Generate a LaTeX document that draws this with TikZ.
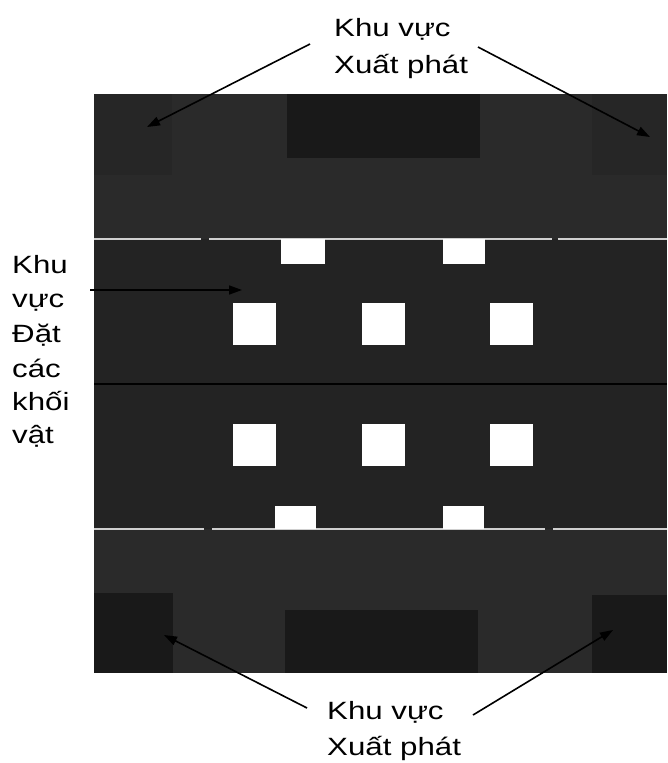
\documentclass[tikz,border=0pt]{standalone}
\usepackage{fontspec}
\setmainfont{Liberation Sans}
\newfontfamily\lblfont[FakeStretch=1.25]{Liberation Sans}
\usetikzlibrary{arrows.meta}

\definecolor{fieldgray}{HTML}{2A2A2A}
\definecolor{midgray}{HTML}{232323}
\definecolor{zonedark}{HTML}{191919}
\definecolor{cornerdark}{HTML}{262626}
\definecolor{laneline}{HTML}{CFCFCF}

\begin{document}
\begin{tikzpicture}[x=1pt,y=-1pt,
  lbl/.style={anchor=base west,inner sep=0pt,text=black,
              font=\lblfont\fontsize{25}{30}\selectfont},
  pointer/.style={draw=black,line width=1.6pt,
                  -{Triangle[length=13pt,width=9pt]}},
  lane/.style={draw=laneline,line width=2pt},
  block/.style={fill=white}]
\useasboundingbox (0,0) rectangle (667,763);

% playing field
\fill[fieldgray] (94,94) rectangle (667,673);
\fill[midgray] (94,239) rectangle (667,529);

% start zones
\fill[cornerdark] (94,94) rectangle (172,175);
\fill[cornerdark] (592,94) rectangle (667,175);
\fill[zonedark] (287,94) rectangle (480,158);
\fill[zonedark] (94,593) rectangle (173,673);
\fill[zonedark] (285,610) rectangle (478,673);
\fill[zonedark] (592,595) rectangle (667,673);

% lane lines
\draw[lane] (94,239) -- (201,239) (209,239) -- (552,239) (558,239) -- (667,239);
\draw[lane] (94,529) -- (204,529) (212,529) -- (545,529) (553,529) -- (667,529);
\draw[black,line width=2pt] (94,384) -- (667,384);

% blocks on the lane lines
\fill[block] (281,239) rectangle (325,264);
\fill[block] (443,239) rectangle (485,264);
\fill[block] (275,506) rectangle (316,529);
\fill[block] (443,506) rectangle (484,529);

% placement squares
\foreach \y in {303,424} {
  \foreach \x in {233,362,490} {
    \fill[block] (\x,\y) rectangle ++(43,42);
  }
}

% labels
\node[lbl] (topA) at (334,36) {Khu vực};
\node[lbl] (topB) at (334,73) {Xuất phát};
\node[lbl] (botA) at (327,719) {Khu vực};
\node[lbl] (botB) at (327,755) {Xuất phát};
\node[lbl] (lA) at (12,273) {Khu};
\node[lbl] (lB) at (12,307) {vực};
\node[lbl] (lC) at (12,342) {Đặt};
\node[lbl] (lD) at (12,377) {các};
\node[lbl] (lE) at (12,410) {khối};
\node[lbl] (lF) at (12,443) {vật};

% pointer ends
\coordinate (tlS) at (310,44);
\coordinate (tlT) at (147,127);
\coordinate (trS) at (478,47);
\coordinate (trT) at (650,137);
\coordinate (blS) at (307,708);
\coordinate (blT) at (164,635);
\coordinate (brS) at (473,715);
\coordinate (brT) at (613,630);
\coordinate (lS) at (90,290);
\coordinate (lT) at (242,290);

\draw[pointer] (tlS) -- (tlT);
\draw[pointer] (trS) -- (trT);
\draw[pointer] (blS) -- (blT);
\draw[pointer] (brS) -- (brT);
\draw[pointer] (lS) -- (lT);
\end{tikzpicture}
\end{document}
